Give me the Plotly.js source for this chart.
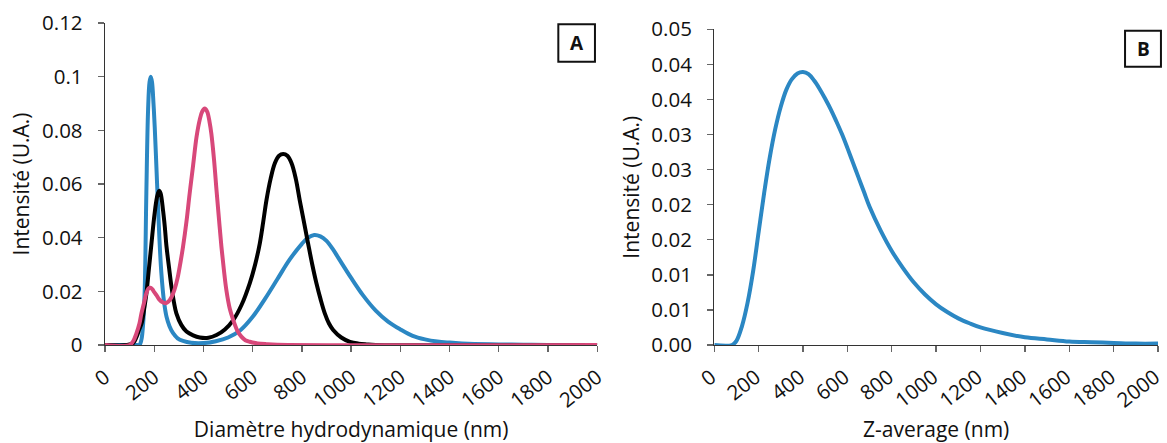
<!DOCTYPE html>
<html>
<head>
<meta charset="utf-8">
<script src="https://cdn.plot.ly/plotly-3.0.1.min.js"></script>
<style>html,body{margin:0;padding:0;background:#fff;}#chart{width:1167px;height:443px;}</style>
</head>
<body>
<div id="chart"></div>
<script>
// ---- Panel A : Diamètre hydrodynamique ----
const xBlueA = [0, 130, 140, 148, 155, 161, 168, 175, 181, 186, 191, 197, 202, 209, 216, 222, 229, 240, 250, 262, 276, 295, 317, 350, 400, 450, 500, 550, 600, 650, 700, 750, 800, 825, 850, 875, 900, 925, 950, 1000, 1050, 1100, 1150, 1200, 1250, 1300, 1350, 1400, 1450, 1500, 1600, 1700, 1800, 2000];
const yBlueA = [0, 0, 0, 0.002, 0.008, 0.0194, 0.0566, 0.0875, 0.098, 0.1, 0.098, 0.09, 0.0813, 0.066, 0.0503, 0.038, 0.0268, 0.016, 0.0105, 0.007, 0.0045, 0.0025, 0.0015, 0.0008, 0.0007, 0.0014, 0.0028, 0.0055, 0.0105, 0.0172, 0.0245, 0.0318, 0.0377, 0.0400, 0.0410, 0.0405, 0.0388, 0.0358, 0.0322, 0.0250, 0.0183, 0.0128, 0.0087, 0.0058, 0.0034, 0.0021, 0.0013, 0.0009, 0.0006, 0.0004, 0.0002, 0.0001, 0, 0];

const xBlackA = [0, 90, 115, 128, 140, 150, 160, 168, 178, 189, 199, 209, 215, 220, 226, 236, 243, 250, 260, 270, 280, 290, 310, 331, 358, 385, 420, 453, 487, 521, 555, 588, 610, 629, 643, 656, 673, 690, 707, 724, 741, 758, 775, 791, 808, 825, 842, 859, 876, 893, 910, 927, 960, 995, 1030, 1063, 1100, 2000];
const yBlackA = [0, 0, 0.0008, 0.003, 0.006, 0.0085, 0.014, 0.019, 0.028, 0.038, 0.047, 0.054, 0.0565, 0.0575, 0.0565, 0.050, 0.044, 0.0366, 0.029, 0.0217, 0.016, 0.0118, 0.0075, 0.005, 0.0036, 0.0028, 0.0027, 0.0037, 0.0058, 0.0093, 0.015, 0.023, 0.030, 0.0379, 0.046, 0.054, 0.062, 0.0677, 0.0705, 0.0712, 0.0705, 0.0677, 0.062, 0.054, 0.046, 0.0379, 0.030, 0.023, 0.017, 0.0118, 0.008, 0.0056, 0.0028, 0.0012, 0.0005, 0.0002, 0, 0];

const xPinkA = [0, 100, 115, 128, 140, 148, 158, 168, 176, 184, 192, 200, 209, 220, 234, 246, 258, 270, 282, 295, 307, 317, 331, 344, 358, 372, 385, 395, 405, 415, 425, 432, 443, 453, 463, 473, 483, 493, 507, 521, 537, 554, 570, 588, 620, 656, 700, 2000];
const yPinkA = [0, 0, 0.0015, 0.0044, 0.008, 0.0118, 0.0155, 0.0193, 0.021, 0.0213, 0.0208, 0.0197, 0.0186, 0.0170, 0.0159, 0.0156, 0.0162, 0.0178, 0.0205, 0.025, 0.031, 0.0366, 0.046, 0.0565, 0.067, 0.0776, 0.084, 0.087, 0.0881, 0.087, 0.083, 0.0788, 0.069, 0.0577, 0.047, 0.0366, 0.028, 0.0205, 0.0135, 0.0093, 0.0055, 0.0031, 0.0018, 0.0012, 0.0006, 0.0003, 0.0001, 0];

// ---- Panel B : Z-average ----
const xZ = [0, 80, 100, 125, 150, 175, 200, 225, 250, 275, 300, 325, 350, 375, 400, 425, 450, 475, 500, 525, 550, 575, 600, 625, 650, 675, 700, 750, 800, 850, 900, 950, 1000, 1050, 1100, 1150, 1200, 1300, 1400, 1500, 1600, 1700, 1800, 1900, 2000];
const yZ = [0, 0, 0.0006, 0.0027, 0.0060, 0.0105, 0.0161, 0.0217, 0.0267, 0.0308, 0.0340, 0.0364, 0.0379, 0.0387, 0.0389, 0.0386, 0.0377, 0.0365, 0.0351, 0.0336, 0.0319, 0.0301, 0.0281, 0.0260, 0.0239, 0.0218, 0.0197, 0.0163, 0.0134, 0.0110, 0.0089, 0.0072, 0.0058, 0.0047, 0.0038, 0.0031, 0.0025, 0.0017, 0.0011, 0.0008, 0.0005, 0.0004, 0.0003, 0.0002, 0.0002];

// ---- ticks and labels ----
const xTicks = [0, 200, 400, 600, 800, 1000, 1200, 1400, 1600, 1800, 2000];
const yTicksA = [0, 0.02, 0.04, 0.06, 0.08, 0.1, 0.12];
const yTickTextA = ["0", "0.02", "0.04", "0.06", "0.08", "0.1", "0.12"];
const yTicksB = [0, 0.005, 0.01, 0.015, 0.02, 0.025, 0.03, 0.035, 0.04, 0.045];
const yTickTextB = ["0.00", "0.01", "0.01", "0.02", "0.02", "0.03", "0.03", "0.04", "0.04", "0.05"];
const xTitleA = "Diamètre hydrodynamique (nm)";
const xTitleB = "Z-average (nm)";
const yTitle = "Intensité (U.A.)";
const panelLabels = ["A", "B"];

const BLUE = "#2B87C3", PINK = "#D8487A", BLACK = "#000000";
const FONT = "Open Sans, sans-serif";
const lw = 4;
const TICKSIZE = 20.5, TITLESIZE = 21;

function lineTrace(x, y, xa, ya, color) {
  return {x: x, y: y, xaxis: xa, yaxis: ya, mode: "lines",
    line: {color: color, width: lw, shape: "spline", smoothing: 1}, hoverinfo: "skip"};
}

const traces = [
  lineTrace(xBlueA, yBlueA, "x", "y", BLUE),
  lineTrace(xBlackA, yBlackA, "x", "y", BLACK),
  lineTrace(xPinkA, yPinkA, "x", "y", PINK),
  lineTrace(xZ, yZ, "x2", "y2", BLUE)
];

const xCommon = {
  range: [0, 2000], tickmode: "array", tickvals: xTicks, ticktext: xTicks.map(String),
  tickangle: -38, ticks: "outside", ticklen: 6, tickcolor: "#666", tickwidth: 1.3,
  showline: true, linecolor: "#333", linewidth: 1.3, showgrid: false, zeroline: false,
  tickfont: {family: FONT, size: TICKSIZE, color: "#111"}, ticklabelstandoff: 5,
  ticklabeloverflow: "allow", automargin: false
};
const yCommon = {
  tickmode: "array", ticks: "outside", ticklen: 6, tickcolor: "#666", tickwidth: 1.3,
  showline: true, linecolor: "#333", linewidth: 1.3, showgrid: false, zeroline: false,
  tickfont: {family: FONT, size: TICKSIZE, color: "#111"}, ticklabelstandoff: 11,
  ticklabeloverflow: "allow", automargin: false
};

const layout = {
  width: 1167, height: 443,
  margin: {l: 105, r: 9, t: 23, b: 98},
  paper_bgcolor: "#fff", plot_bgcolor: "#fff",
  showlegend: false,
  font: {family: FONT, color: "#111"},
  xaxis: Object.assign({}, xCommon, {domain: [0, 0.4675], anchor: "y",
    title: {text: xTitleA, font: {family: FONT, size: TITLESIZE, color: "#111"}, standoff: 12}}),
  yaxis: Object.assign({}, yCommon, {domain: [0, 1], anchor: "x", range: [0, 0.12],
    tickvals: yTicksA, ticktext: yTickTextA,
    title: {text: yTitle, font: {family: FONT, size: TITLESIZE, color: "#111"}, standoff: 6}}),
  xaxis2: Object.assign({}, xCommon, {domain: [0.5786, 1], anchor: "y2", ticklabelshift: -3,
    title: {text: xTitleB, font: {family: FONT, size: TITLESIZE, color: "#111"}, standoff: 12}}),
  yaxis2: Object.assign({}, yCommon, {domain: [0, 0.9804], anchor: "x2", range: [0, 0.045],
    tickvals: yTicksB, ticktext: yTickTextB,
    title: {text: yTitle, font: {family: FONT, size: TITLESIZE, color: "#111"}, standoff: 6}}),
  shapes: [
    {type: "rect", xref: "paper", yref: "paper", x0: 0.4305, x1: 0.4653, y0: 0.8798, y1: 0.996, line: {color: "#111", width: 2}, fillcolor: "#fff"},
    {type: "rect", xref: "paper", yref: "paper", x0: 0.9687, x1: 1.0028, y0: 0.8643, y1: 0.976, line: {color: "#111", width: 2}, fillcolor: "#fff"}
  ],
  annotations: [
    {xref: "paper", yref: "paper", x: 0.4479, y: 0.938, text: "<b>" + panelLabels[0] + "</b>", showarrow: false, font: {family: FONT, size: 19, color: "#111"}, xanchor: "center", yanchor: "middle"},
    {xref: "paper", yref: "paper", x: 0.9858, y: 0.920, text: "<b>" + panelLabels[1] + "</b>", showarrow: false, font: {family: FONT, size: 19, color: "#111"}, xanchor: "center", yanchor: "middle"}
  ]
};

Plotly.newPlot("chart", traces, layout, {staticPlot: true, displayModeBar: false});
</script>
</body>
</html>
